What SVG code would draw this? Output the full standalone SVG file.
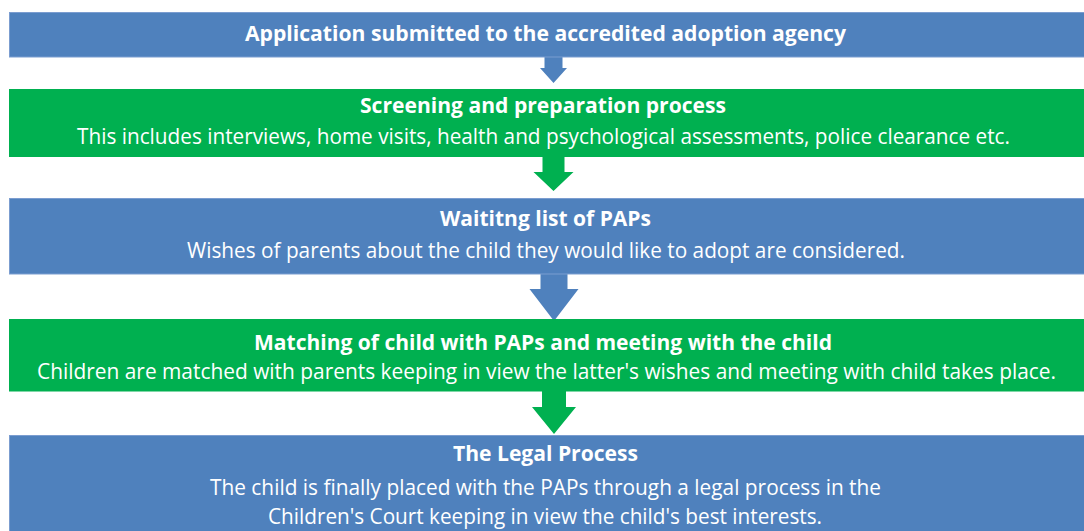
<svg xmlns="http://www.w3.org/2000/svg" width="1084" height="531" viewBox="0 0 1084 531">
<style>
.blue{fill:#4F81BD;stroke:#7B9DD0;stroke-width:1}
.green{fill:#00B050}
.ab{fill:#4F81BD}
.ag{fill:#00B050}
text{font-family:"Open Sans","Noto Sans","Liberation Sans",sans-serif;fill:#FFFFFF;text-anchor:middle}
.b{font-weight:bold;font-size:21px}
.r{font-size:21px}
</style>
<rect width="1084" height="531" fill="#FFFFFF"/>
<g id="connectors">
<polygon class="ab" points="544.5,57 562.5,57 562.5,68 567,68 553.5,83 540,68 544.5,68"/>
<polygon class="ag" points="542.5,156 564.5,156 564.5,172 573.5,172 553.5,191 533.5,172 542.5,172"/>
<polygon class="ab" points="540.5,274 567.5,274 567.5,289 578.5,289 554,321 529.5,289 540.5,289"/>
<polygon class="ag" points="542,391 566,391 566,407 576,407 554,434 532,407 542,407"/>
</g>
<g id="node1">
<rect class="blue" x="9.5" y="12.5" width="1080" height="44.5"/>
<text class="b" x="545.5" y="41" textLength="601" lengthAdjust="spacingAndGlyphs">Application submitted to the accredited adoption agency</text>
</g>
<g id="node2">
<rect class="green" x="9" y="89" width="1075" height="68"/>
<text class="b" x="543" y="113" textLength="366" lengthAdjust="spacingAndGlyphs">Screening and preparation process</text>
<text class="r" x="543.5" y="143.5" textLength="933" lengthAdjust="spacingAndGlyphs">This includes interviews, home visits, health and psychological assessments, police clearance etc.</text>
</g>
<g id="node3">
<rect class="blue" x="9.5" y="198.5" width="1080" height="75.5"/>
<text class="b" x="545.5" y="226" textLength="211" lengthAdjust="spacingAndGlyphs">Waititng list of PAPs</text>
<text class="r" x="546" y="257.5" textLength="718" lengthAdjust="spacingAndGlyphs">Wishes of parents about the child they would like to adopt are considered.</text>
</g>
<g id="node4">
<rect class="green" x="9" y="319" width="1075" height="72.5"/>
<text class="b" x="543" y="349.5" textLength="578" lengthAdjust="spacingAndGlyphs">Matching of child with PAPs and meeting with the child</text>
<text class="r" x="546.5" y="379" textLength="1019" lengthAdjust="spacingAndGlyphs">Children are matched with parents keeping in view the latter's wishes and meeting with child takes place.</text>
</g>
<g id="node5">
<rect class="blue" x="9.5" y="435.5" width="1080" height="100"/>
<text class="b" x="545.5" y="461" textLength="185" lengthAdjust="spacingAndGlyphs">The Legal Process</text>
<text class="r" x="545.5" y="495" textLength="671" lengthAdjust="spacingAndGlyphs">The child is finally placed with the PAPs through a legal process in the</text>
<text class="r" x="545" y="524" textLength="554" lengthAdjust="spacingAndGlyphs">Children's Court keeping in view the child's best interests.</text>
</g>
</svg>
